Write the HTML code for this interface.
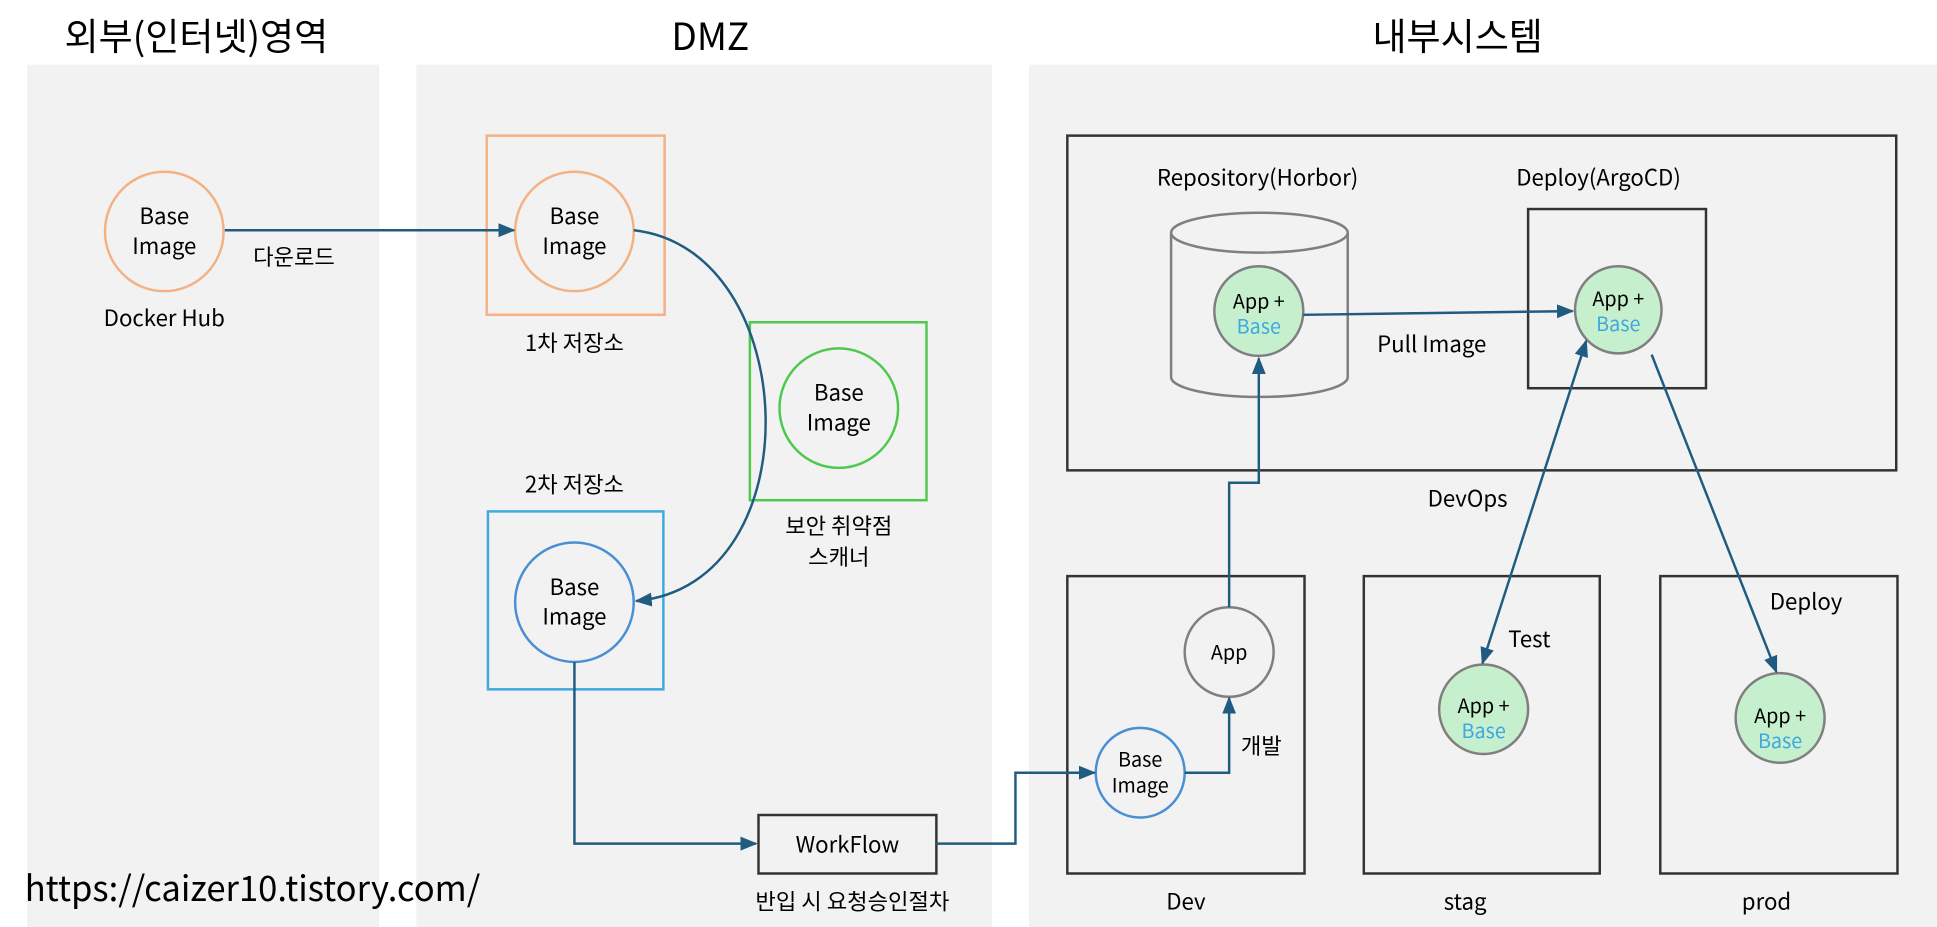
<!DOCTYPE html>
<html><head><meta charset="utf-8"><style>
html,body{margin:0;padding:0;background:#fff;}
svg{display:block;}
text{font-family:"Noto Sans CJK KR","Liberation Sans",sans-serif;fill:#000;}
</style></head><body>
<svg width="1937" height="927" viewBox="0 0 1568 745" preserveAspectRatio="none" xmlns="http://www.w3.org/2000/svg">
<defs>
<marker id="a" viewBox="0 0 10 10" refX="9" refY="5" markerWidth="7" markerHeight="7" orient="auto-start-reverse"><path d="M0,1 L10,5 L0,9 z" fill="#1f5c80"/></marker>
</defs>
<rect x="22" y="52" width="285" height="693" fill="#f2f2f2"/>
<rect x="337" y="52" width="466" height="693" fill="#f2f2f2"/>
<rect x="833" y="52" width="735" height="693" fill="#f2f2f2"/>
<g font-size="30" text-anchor="middle">
<text x="159" y="40">외부(인터넷)영역</text>
<text x="575" y="40">DMZ</text>
<text x="1180" y="40">내부시스템</text>
</g>
<g fill="none" stroke-width="2">
<circle cx="133" cy="186" r="48" stroke="#f4b183"/>
<rect x="394" y="109" width="144" height="144" stroke="#f4b183"/>
<circle cx="465" cy="186" r="48" stroke="#f4b183"/>
<rect x="607" y="259" width="143" height="143" stroke="#4ec94e"/>
<circle cx="679" cy="328" r="48" stroke="#4ec94e"/>
<rect x="395" y="411" width="142" height="143" stroke="#3fa8e0"/>
<circle cx="465" cy="484" r="48" stroke="#4a8fd4"/>
<rect x="614" y="655" width="144" height="47" stroke="#333"/>
<rect x="864" y="109" width="671" height="269" stroke="#333"/>
<rect x="1237" y="168" width="144" height="144" stroke="#333"/>
<rect x="864" y="463" width="192" height="239" stroke="#333"/>
<rect x="1104" y="463" width="191" height="239" stroke="#333"/>
<rect x="1344" y="463" width="192" height="239" stroke="#333"/>
<path d="M948,187 L948,303 A71.5,16 0 0 0 1091,303 L1091,187" stroke="#7f7f7f"/>
<ellipse cx="1019.5" cy="187" rx="71.5" ry="16" stroke="#7f7f7f"/>
<circle cx="995" cy="524" r="36" stroke="#7f7f7f"/>
<circle cx="923" cy="621" r="36" stroke="#4a8fd4"/>
</g>
<g fill="#c6efce" stroke="#7f7f7f" stroke-width="2">
<circle cx="1019" cy="250" r="36"/>
<circle cx="1310" cy="249" r="35"/>
<circle cx="1201" cy="570" r="36"/>
<circle cx="1441" cy="577" r="36"/>
</g>
<g fill="none" stroke="#1f5c80" stroke-width="2">
<path d="M182,185 L416,185" marker-end="url(#a)"/>
<path d="M513,185 C650,200 660,470 515,483" marker-end="url(#a)"/>
<path d="M465,532 L465,678 L612,678" marker-end="url(#a)"/>
<path d="M758,678 L822,678 L822,621 L886,621" marker-end="url(#a)"/>
<path d="M959,621 L995,621 L995,561" marker-end="url(#a)"/>
<path d="M995,488 L995,388 L1019,388 L1019,288" marker-end="url(#a)"/>
<path d="M1055,253 L1273,250" marker-end="url(#a)"/>
<path d="M1284,274 L1200,533" marker-end="url(#a)" marker-start="url(#a)"/>
<path d="M1337,285 L1438,540" marker-end="url(#a)"/>
</g>
<g font-size="18" text-anchor="middle">
<text x="133" y="180">Base</text><text x="133" y="204">Image</text>
<text x="465" y="180">Base</text><text x="465" y="204">Image</text>
<text x="679" y="322">Base</text><text x="679" y="346">Image</text>
<text x="465" y="478">Base</text><text x="465" y="502">Image</text>
<text x="238" y="213">다운로드</text>
<text x="133" y="262">Docker Hub</text>
<text x="465" y="282">1차 저장소</text>
<text x="465" y="396">2차 저장소</text>
<text x="679" y="429">보안 취약점</text>
<text x="679" y="454">스캐너</text>
<text x="686" y="685">WorkFlow</text>
<text x="690" y="731">반입 시 요청승인절차</text>
<text x="1018" y="149">Repository(Horbor)</text>
<text x="1294" y="149">Deploy(ArgoCD)</text>
<text x="1159" y="283">Pull Image</text>
<text x="1188" y="407">DevOps</text>
<text x="960" y="731">Dev</text>
<text x="1186" y="731">stag</text>
<text x="1430" y="731">prod</text>
<text x="1021" y="606">개발</text>
<text x="1238" y="520">Test</text>
<text x="1462" y="490">Deploy</text>
</g>
<g font-size="16" text-anchor="middle">
<text x="995" y="530">App</text>
<text x="923" y="616">Base</text><text x="923" y="637">Image</text>
<text x="1019" y="248">App +</text><text x="1019" y="268" style="fill:#3fa8e0">Base</text>
<text x="1310" y="246">App +</text><text x="1310" y="266" style="fill:#3fa8e0">Base</text>
<text x="1201" y="573">App +</text><text x="1201" y="593" style="fill:#3fa8e0">Base</text>
<text x="1441" y="581">App +</text><text x="1441" y="601" style="fill:#3fa8e0">Base</text>
</g>
<text x="20" y="724" font-size="28">https://caizer10.tistory.com/</text>
</svg>
</body></html>
